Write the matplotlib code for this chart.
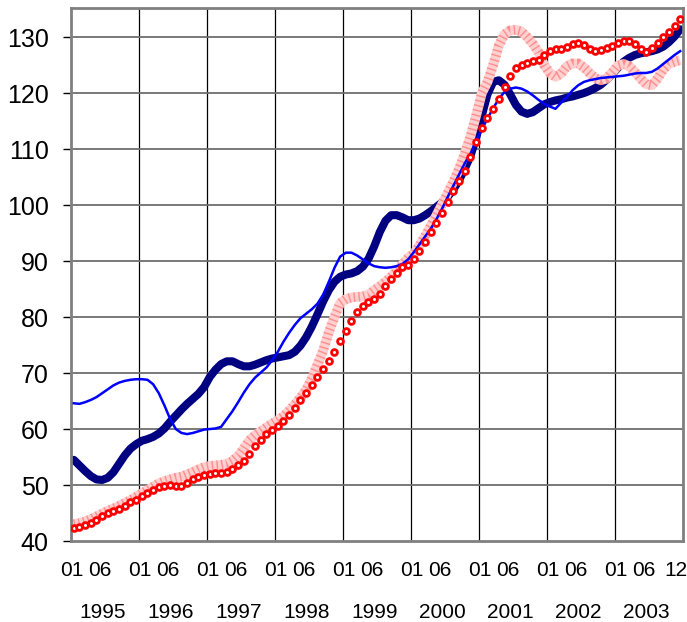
import numpy as np
import matplotlib.pyplot as plt
import matplotlib.transforms as mtransforms

plt.rcParams['font.family'] = ['Liberation Sans', 'DejaVu Sans']

# Monthly values, Jan 1995 .. Dec 2003 (108 months)
navy_vals = [
    54.5, 53.5, 52.5, 51.6, 51.0, 50.9, 51.3, 52.3, 53.8, 55.3, 56.5, 57.3,
    57.9, 58.2, 58.6, 59.2, 60.1, 61.3, 62.4, 63.5, 64.5, 65.4, 66.3, 67.5,
    69.3, 70.6, 71.6, 72.1, 72.1, 71.6, 71.2, 71.2, 71.5, 71.9, 72.3, 72.6,
    72.8, 73.0, 73.2, 73.8, 74.9, 76.4, 78.3, 80.5, 82.8, 84.8, 86.3, 87.2,
    87.6, 87.8, 88.2, 89.0, 90.4, 92.6, 95.2, 97.2, 98.2, 98.2, 97.8, 97.3,
    97.3, 97.6, 98.2, 98.9, 99.7, 100.5, 101.5, 102.8, 104.5, 106.5, 108.8, 112.0,
    116.0, 119.8, 122.0, 122.3, 121.5, 119.8, 117.9, 116.7, 116.3, 116.6, 117.3, 118.0,
    118.4, 118.7, 118.9, 119.2, 119.4, 119.7, 120.0, 120.4, 120.9, 121.5, 122.4, 123.4,
    124.5, 125.6, 126.3, 126.8, 127.1, 127.3, 127.5, 127.8, 128.3, 129.1, 130.1, 131.4,
]
blue_vals = [
    64.6, 64.5, 64.8, 65.2, 65.7, 66.4, 67.1, 67.8, 68.3, 68.6, 68.8, 68.9,
    68.9, 68.8, 68.0, 66.4, 64.2, 61.8, 60.0, 59.3, 59.1, 59.3, 59.6, 59.9,
    60.0, 60.1, 60.4, 61.8, 63.2, 64.8, 66.5, 68.0, 69.2, 70.1, 71.0, 72.3,
    73.8, 75.6, 77.2, 78.6, 79.8, 80.6, 81.4, 82.4, 84.0, 86.3, 88.8, 90.8,
    91.5, 91.5, 91.0, 90.3, 89.6, 89.1, 88.9, 88.8, 88.9, 89.1, 89.5, 90.3,
    91.6, 93.0, 94.4, 95.8, 97.5, 99.4, 101.5, 103.5, 105.5, 107.5, 109.2, 111.4,
    113.5, 115.5, 117.3, 119.0, 120.2, 120.8, 121.0, 120.8, 120.3, 119.6, 118.8, 118.1,
    117.6, 117.2, 118.3, 119.3, 120.5, 121.4, 122.0, 122.3, 122.5, 122.7, 122.8, 122.9,
    123.0, 123.1, 123.3, 123.5, 123.6, 123.6, 123.8, 124.4, 125.2, 126.0, 126.8, 127.5,
]
red_vals = [
    42.3, 42.5, 42.9, 43.3, 43.8, 44.5, 45.0, 45.4, 45.8, 46.3, 46.9, 47.4,
    48.0, 48.6, 49.2, 49.7, 49.9, 50.0, 49.8, 49.8, 50.3, 51.0, 51.5, 51.8,
    52.0, 52.1, 52.1, 52.3, 52.9, 53.6, 54.3, 55.6, 56.9, 58.1, 59.1, 59.8,
    60.5, 61.4, 62.5, 63.8, 65.2, 66.5, 67.9, 69.3, 70.7, 72.1, 73.8, 75.7,
    77.6, 79.3, 80.9, 82.0, 82.7, 83.2, 84.1, 85.5, 86.8, 87.9, 88.9, 89.3,
    90.4, 91.8, 93.4, 95.2, 96.8, 98.6, 100.5, 102.5, 104.3, 106.1, 108.6, 111.2,
    113.8, 115.5, 117.1, 118.9, 121.1, 123.0, 124.5, 125.0, 125.4, 125.7, 126.0, 126.8,
    127.5, 127.9, 127.9, 128.2, 128.8, 128.9, 128.6, 127.9, 127.5, 127.7, 128.0, 128.4,
    128.9, 129.3, 129.3, 128.8, 127.9, 127.3, 128.0, 128.9, 130.0, 130.9, 132.0, 133.2,
]
band_vals = [
    43.0, 43.2, 43.5, 43.9, 44.4, 44.9, 45.4, 45.8, 46.3, 46.8, 47.3, 47.9,
    48.5, 49.1, 49.7, 50.3, 50.7, 51.0, 51.3, 51.5, 51.9, 52.3, 52.8, 53.2,
    53.4, 53.5, 53.6, 53.8, 54.3, 55.2, 56.5, 58.0, 58.9, 59.6, 60.3, 61.0,
    61.6, 62.3, 63.3, 64.4, 65.6, 67.0, 69.0, 71.5, 74.0, 77.3, 80.0, 82.5,
    83.2, 83.5, 83.6, 83.7, 84.0, 84.8, 85.5, 86.3, 87.2, 88.2, 89.4, 90.6,
    91.3, 92.8, 94.5, 96.3, 98.2, 100.2, 102.2, 104.2, 106.5, 109.2, 112.3, 116.0,
    120.0, 122.0, 125.0, 128.5, 130.5, 131.2, 131.3, 131.0, 130.0, 128.8, 127.3, 125.0,
    123.6, 122.9, 123.5, 124.8, 125.3, 125.3, 124.6, 123.6, 122.7, 122.3, 122.6, 123.7,
    124.9, 125.2, 124.8, 123.8, 122.6, 121.6, 121.4, 122.6, 124.2, 125.2, 125.6, 125.9,
]

years = ['1995', '1996', '1997', '1998', '1999', '2000', '2001', '2002', '2003']
month_labels = ['01', '06']
last_label = '12'
y_ticks = [40, 50, 60, 70, 80, 90, 100, 110, 120, 130]

months = np.arange(len(navy_vals))

fig = plt.figure(figsize=(6.87, 6.22), dpi=100)
ax = fig.add_axes([0.1033, 0.1302, 0.8909, 0.8569])

# gridlines: vertical at year boundaries, horizontal at y ticks
for k in range(1, len(years)):
    ax.axvline(12 * k - 0.5, color='black', lw=0.9, zorder=1)
for v in y_ticks[1:]:
    ax.axhline(v, color='#6e6e6e', lw=1.3, zorder=1)

# series
ax.plot(months, navy_vals, color='#000080', lw=5.8, solid_capstyle='round', zorder=2)
# patterned band: light base with a fine red stipple on top
ax.plot(months, band_vals, color='#ffd0d0', lw=7, solid_capstyle='butt', zorder=3)
ax.plot(months, band_vals, color='#ff5a5a', lw=7, linestyle=(0, (0.15, 0.35)),
        alpha=0.55, zorder=3)
ax.plot(months, blue_vals, color='#0000ff', lw=1.8, zorder=4)
ax.plot(months, red_vals, linestyle='none', marker='o', ms=4.2, mfc='white',
        mec='#ff0000', mew=2.0, zorder=5)

ax.set_xlim(-0.5, len(months) - 0.5)
ax.set_ylim(40, 135.2)
ax.set_yticks(y_ticks)
ax.tick_params(axis='y', direction='out', length=6, width=1, labelsize=18, pad=10)
ax.set_xticks([])

for s in ax.spines.values():
    s.set_color('#808080')
    s.set_linewidth(2)

# month and year labels under the axis
trans = mtransforms.blended_transform_factory(ax.transData, ax.transAxes)
for k, yr in enumerate(years):
    ax.text(12 * k - 0.4, -0.056, month_labels[0], transform=trans,
            ha='center', va='center', fontsize=15)
    ax.text(12 * k + 4.6, -0.056, month_labels[1], transform=trans,
            ha='center', va='center', fontsize=15)
    ax.text(12 * k + 5.0, -0.135, yr, transform=trans,
            ha='center', va='center', fontsize=15)
ax.text(len(months) - 1.8, -0.056, last_label, transform=trans,
        ha='center', va='center', fontsize=15)

fig.savefig('out.png', dpi=100)
